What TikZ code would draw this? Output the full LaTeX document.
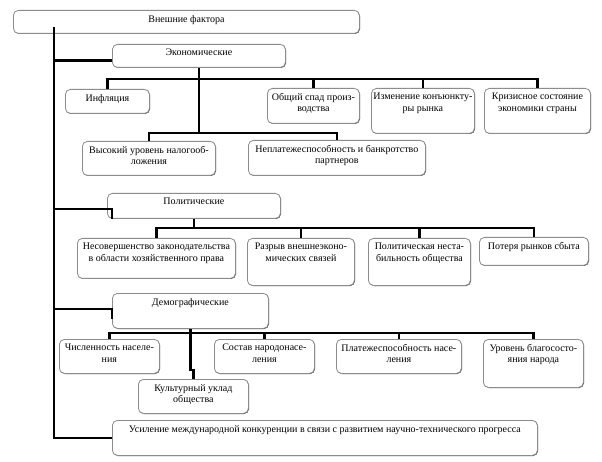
\documentclass[tikz,border=0pt]{standalone}
\usepackage{fontspec}
\setmainfont{Liberation Serif}
\usetikzlibrary{shadows}
\newcommand\bx[6]{%
  \node[box, minimum width={#4-#2}, minimum height={#5-#3}] (#1) at (#2,#3) {};
  \node[lab] (#1t) at ([yshift=-5pt]#1.north) {#6};}
\begin{document}
\begin{tikzpicture}[x=1pt,y=-1pt,
  box/.style={draw=black!45, line width=0.8pt, fill=white, rounded corners=5pt, inner sep=0pt, anchor=north west,
    general shadow={fill=black!75, shadow xshift=0.6pt, shadow yshift=-0.6pt}},
  lab/.style={anchor=north, align=center, inner sep=0pt, font=\fontsize{10}{11.5}\selectfont},
  con/.style={line width=2.5pt}]
\useasboundingbox[fill=white] (0,0) rectangle (602,462);

\bx{top}{13}{10}{359}{33}{Внешние фактора}
\bx{eco}{112}{44}{285}{67}{Экономические}
\bx{inf}{65}{89}{149}{113}{Инфляция}
\bx{obs}{267}{88}{359}{123}{Общий спад произ-\\водства}
\bx{izm}{371}{88}{474}{133}{Изменение конъюнкту-\\ры рынка}
\bx{krz}{484}{88}{590}{133}{Кризисное состояние\\экономики страны}
\bx{vys}{82}{141}{215}{175}{Высокий уровень налогооб-\\ложения}
\bx{nep}{248}{140}{425}{175}{Неплатежеспособность и банкротство\\партнеров}
\bx{pol}{107}{193}{280}{218}{Политические}
\bx{nes}{77}{238}{235}{278}{Несовершенство законодательства\\в области хозяйственного права}
\bx{raz}{247}{238}{354}{285}{Разрыв внешнеэконо-\\мических связей}
\bx{plt}{368}{238}{470}{285}{Политическая неста-\\бильность общества}
\bx{pot}{479}{237}{588}{265}{Потеря рынков сбыта}
\bx{dem}{112}{293}{268}{328}{Демографические}
\bx{chi}{59}{339}{159}{373}{Численность населе-\\ния}
\bx{sos}{214}{339}{314}{373}{Состав народонасе-\\ления}
\bx{pla}{336}{339}{461}{373}{Платежеспособность насе-\\ления}
\bx{urv}{483}{339}{583}{387}{Уровень благососто-\\яния народа}
\bx{kul}{138}{379}{248}{413}{Культурный уклад\\общества}
\bx{usl}{112}{420}{537}{455}{Усиление международной конкуренции в связи с развитием научно-технического прогресса}

\coordinate (m) at (54,0);
\coordinate (b1) at (0,79);
\coordinate (b2) at (0,133);
\coordinate (b3) at (0,228);
\coordinate (b4) at (0,333);
\coordinate (k) at (0,370);

% main spine
\draw[con] ([yshift=7pt]top.south -| m) -- (m |- usl.west) -- (usl.west);
\draw[con] ([yshift=-4.5pt]eco.west -| m) -- ([yshift=-4.5pt]eco.west);
\draw[con] (m |- 0,209) -| ([xshift=5pt]pol.south west);
\draw[con] (m |- 0,309) -| ([yshift=10pt]dem.south west);

% economic
\draw[con] (eco.south) -- (eco.south |- b2);
\draw[con] (inf.north) |- (krz.north |- b1) -- (krz.north);
\draw[con] (obs.north) -- (obs.north |- b1);
\draw[con] (izm.north) -- (izm.north |- b1);
\draw[con] (vys.north) |- (nep.north |- b2) -- (nep.north);

% political
\draw[con] (pol.south) -- (pol.south |- b3);
\draw[con] (nes.north) |- (pot.north |- b3) -- (pot.north);
\draw[con] (raz.north) -- (raz.north |- b3);
\draw[con] (plt.north) -- (plt.north |- b3);

% demographic
\draw[con] (dem.south) -- (dem.south |- b4);
\draw[con] (chi.north) |- (urv.north |- b4) -- (urv.north);
\draw[con] (sos.north) -- (sos.north |- b4);
\draw[con] (pla.north) -- (pla.north |- b4);
\draw[con] (dem.south |- b4) -- (dem.south |- k) -- (kul.north |- k) -- (kul.north);
\end{tikzpicture}
\end{document}
